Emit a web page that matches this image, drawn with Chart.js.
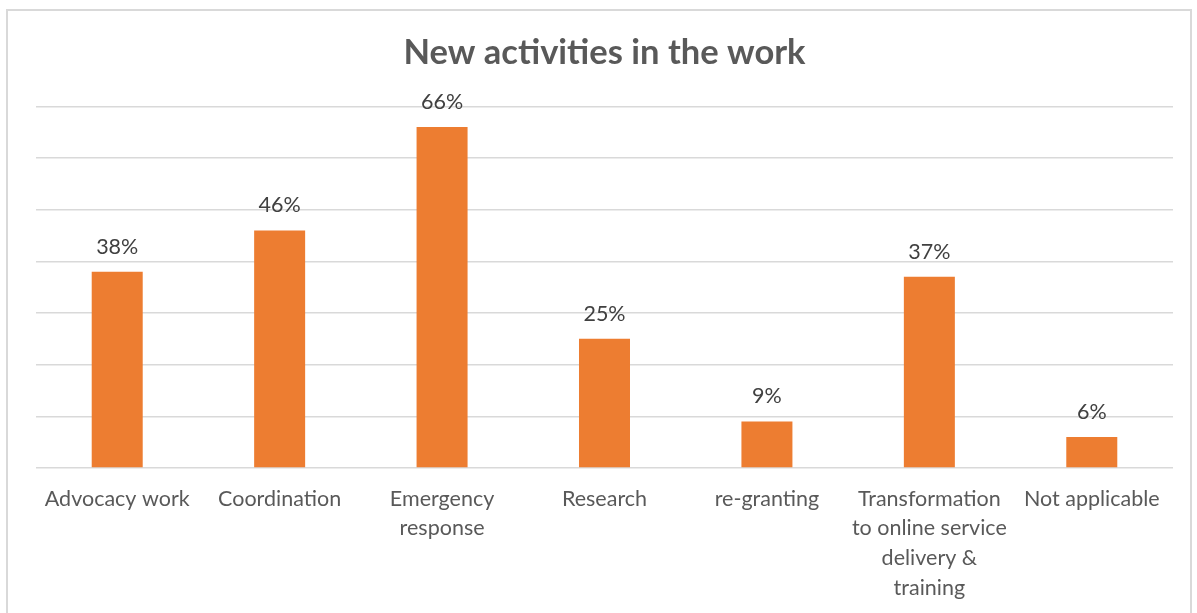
<!DOCTYPE html>
<html>
<head>
<meta charset="utf-8">
<script src="https://cdn.jsdelivr.net/npm/chart.js@4/dist/chart.umd.min.js"></script>
<style>
  body { margin: 0; background: #fff; }
  #frame { position: absolute; left: 6px; top: 9px; width: 1186px; height: 640px; border: 2px solid #d9d9d9; box-sizing: border-box; }
  #chart { position: absolute; left: 0; top: 0; }
</style>
</head>
<body>
<div id="frame"></div>
<canvas id="chart" width="1197" height="613"></canvas>
<script>
// data
const categories = [
  "Advocacy work",
  "Coordination",
  ["Emergency", "response"],
  "Research",
  "re-granting",
  ["Transformation", "to online service", "delivery &", "training"],
  "Not applicable"
];
const shares = [38, 46, 66, 25, 9, 37, 6];
const yTicks = [0, 10, 20, 30, 40, 50, 60, 70];

const fontFamily = "Lato, 'Open Sans', sans-serif";

// value labels above bars
const barLabels = {
  id: "barLabels",
  afterDatasetsDraw(chart) {
    const ctx = chart.ctx;
    const meta = chart.getDatasetMeta(0);
    ctx.save();
    ctx.fillStyle = "#404040";
    ctx.font = "21.5px " + fontFamily;
    ctx.textAlign = "center";
    ctx.textBaseline = "middle";
    meta.data.forEach((bar, i) => {
      ctx.fillText(shares[i] + "%", bar.x, bar.y - 25);
    });
    ctx.restore();
  }
};

new Chart(document.getElementById("chart"), {
  type: "bar",
  data: {
    labels: categories,
    datasets: [{
      data: shares,
      backgroundColor: "#ed7d31",
      borderWidth: 0,
      categoryPercentage: 1,
      barPercentage: 0.314
    }]
  },
  options: {
    responsive: false,
    animation: false,
    layout: { padding: { left: 36, right: 24, top: 0, bottom: 0 } },
    plugins: {
      legend: { display: false },
      tooltip: { enabled: false },
      title: {
        display: true,
        text: "New activities in the work",
        color: "#595959",
        font: { family: fontFamily, size: 34.5, weight: "bold" },
        padding: { top: 32, bottom: 33 }
      }
    },
    scales: {
      x: {
        grid: { display: false },
        border: { display: false },
        ticks: {
          color: "#595959",
          font: { family: fontFamily, size: 21.5, lineHeight: 1.38 },
          padding: 8,
          maxRotation: 0,
          autoSkip: false
        },
        afterFit(scale) { scale.height = 145; }
      },
      y: {
        min: 0,
        max: 70,
        afterBuildTicks(scale) { scale.ticks = yTicks.map(v => ({ value: v })); },
        ticks: { display: false },
        grid: { color: "#d9d9d9", lineWidth: 1.5, drawTicks: false },
        border: { display: false },
        afterFit(scale) { scale.width = 0; }
      }
    }
  },
  plugins: [barLabels]
});
</script>
</body>
</html>
